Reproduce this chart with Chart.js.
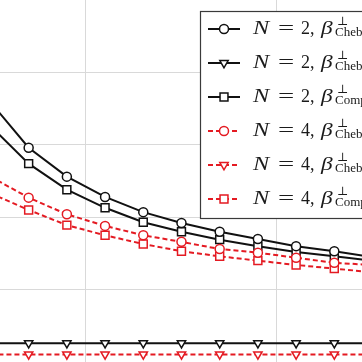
<!DOCTYPE html>
<html>
<head>
<meta charset="utf-8">
<script src="https://cdn.jsdelivr.net/npm/chart.js@4/dist/chart.umd.min.js"></script>
<style>
  html, body { margin: 0; padding: 0; background: #fff; }
  canvas { display: block; }
</style>
</head>
<body>
<canvas id="chart" width="362" height="362"></canvas>
<script>
// x positions of the samples (the plot is a crop, first and last point sit outside)
const xValues = [5, 7, 9, 11, 13, 15, 17, 19, 21, 23, 25];

const n2Cheb    = [3.59, 2.96, 2.56, 2.28, 2.07, 1.92, 1.80, 1.70, 1.60, 1.53, 1.45];
const n2ChebTri = [0.26, 0.26, 0.26, 0.26, 0.26, 0.26, 0.26, 0.26, 0.26, 0.26, 0.26];
const n2Comp    = [3.26, 2.74, 2.38, 2.13, 1.93, 1.80, 1.69, 1.60, 1.52, 1.46, 1.40];
const n4Cheb    = [2.56, 2.27, 2.04, 1.88, 1.75, 1.66, 1.56, 1.51, 1.44, 1.37, 1.34];
const n4ChebTri = [0.105, 0.105, 0.105, 0.105, 0.105, 0.105, 0.105, 0.105, 0.105, 0.105, 0.105];
const n4Comp    = [2.33, 2.10, 1.89, 1.75, 1.63, 1.53, 1.46, 1.40, 1.34, 1.29, 1.24];

const legendN   = ['2', '2', '2', '4', '4', '4'];
const legendSub = ['Cheb', 'Cheb', 'Comp', 'Cheb', 'Cheb', 'Comp'];

const BLACK = '#111111';
const RED = 'rgb(228, 26, 34)';
const GRID = '#d9d9d9';

const series = [
    { data: n2Cheb,    color: BLACK, style: 'circle',   dash: [] },
    { data: n2ChebTri, color: BLACK, style: 'triangle', dash: [] },
    { data: n2Comp,    color: BLACK, style: 'rect',     dash: [] },
    { data: n4Cheb,    color: RED,   style: 'circle',   dash: [5, 3] },
    { data: n4ChebTri, color: RED,   style: 'triangle', dash: [5, 3] },
    { data: n4Comp,    color: RED,   style: 'rect',     dash: [5, 3] },
];

const markerRadius = (style) => style === 'rect' ? 5.6 : (style === 'triangle' ? 4.8 : 4.5);

const datasets = series.map((s, i) => ({
    label: 'N = ' + legendN[i],
    data: xValues.map((x, k) => ({ x: x, y: s.data[k] })),
    borderColor: s.color,
    borderWidth: 2,
    borderDash: s.dash,
    backgroundColor: '#fff',
    pointStyle: s.style,
    pointRadius: markerRadius(s.style),
    pointRotation: s.style === 'triangle' ? 180 : 0,
    pointBorderColor: s.color,
    pointBackgroundColor: '#fff',
    pointBorderWidth: 1.5,
    tension: 0,
    fill: false,
    order: s.color === RED ? 0 : 1, // red curves sit on top of the black ones
}));

const gridColor = (lo, hi) => (ctx) => {
    const v = ctx.tick && ctx.tick.value;
    return (v <= lo || v >= hi) ? 'rgba(0,0,0,0)' : GRID;
};

// text stretched sideways, the source uses the wide TeX glyphs
const wideText = (ctx, txt, x, y, sx) => {
    ctx.save();
    ctx.translate(x, y);
    ctx.scale(sx, 1);
    ctx.fillText(txt, 0, 0);
    ctx.restore();
};

// boxed legend in the upper right, clipped by the canvas edge like the source
const boxLegend = {
    id: 'boxLegend',
    afterDraw(chart) {
        const ctx = chart.ctx;
        ctx.save();
        ctx.fillStyle = '#fff';
        ctx.fillRect(200, 11, 200, 207);
        ctx.strokeStyle = '#3a3a3a';
        ctx.lineWidth = 1.2;
        ctx.strokeRect(200.5, 11.5, 200, 207);

        series.forEach((s, i) => {
            const cy = 29 + i * 34;

            ctx.strokeStyle = s.color;
            ctx.lineWidth = 2;
            ctx.setLineDash(s.dash);
            ctx.beginPath();
            ctx.moveTo(208, cy);
            ctx.lineTo(240, cy);
            ctx.stroke();
            ctx.setLineDash([]);

            ctx.fillStyle = '#fff';
            ctx.lineWidth = 1.5;
            Chart.helpers.drawPoint(ctx, {
                pointStyle: s.style,
                radius: markerRadius(s.style),
                rotation: s.style === 'triangle' ? 180 : 0,
                borderWidth: 1.5,
            }, 224, cy);

            const base = cy + 5;
            ctx.fillStyle = '#1a1a1a';
            ctx.textBaseline = 'alphabetic';
            ctx.textAlign = 'left';
            ctx.font = 'italic 18px "Liberation Serif"';
            wideText(ctx, 'N', 253, base, 1.35);
            ctx.font = '18px "Liberation Serif"';
            wideText(ctx, '=', 278, base, 1.6);
            ctx.fillText(legendN[i] + ',', 301, base);
            ctx.font = 'italic 18px "Liberation Serif"';
            wideText(ctx, '\u03B2', 321, base, 1.3);
            ctx.font = '12px "DejaVu Serif"';
            ctx.fillText('\u22A5', 337, cy - 4);
            ctx.font = '13px "Liberation Serif"';
            ctx.fillText(legendSub[i], 335, cy + 7);
        });
        ctx.restore();
    }
};

new Chart(document.getElementById('chart'), {
    type: 'line',
    data: { datasets: datasets },
    options: {
        responsive: false,
        animation: false,
        devicePixelRatio: 1,
        layout: { padding: 0, autoPadding: false },
        scales: {
            x: {
                type: 'linear',
                min: 5.5,
                max: 24.45,
                ticks: { display: false, stepSize: 10, includeBounds: false },
                grid: { color: gridColor(5.5, 24.45), lineWidth: 1, drawTicks: false },
                border: { display: false },
            },
            y: {
                type: 'linear',
                min: 0,
                max: 5,
                ticks: { display: false, stepSize: 1 },
                grid: { color: gridColor(0, 5), lineWidth: 1, drawTicks: false },
                border: { display: false },
            }
        },
        plugins: {
            legend: { display: false },
            tooltip: { enabled: false },
        }
    },
    plugins: [boxLegend]
});
</script>
</body>
</html>
